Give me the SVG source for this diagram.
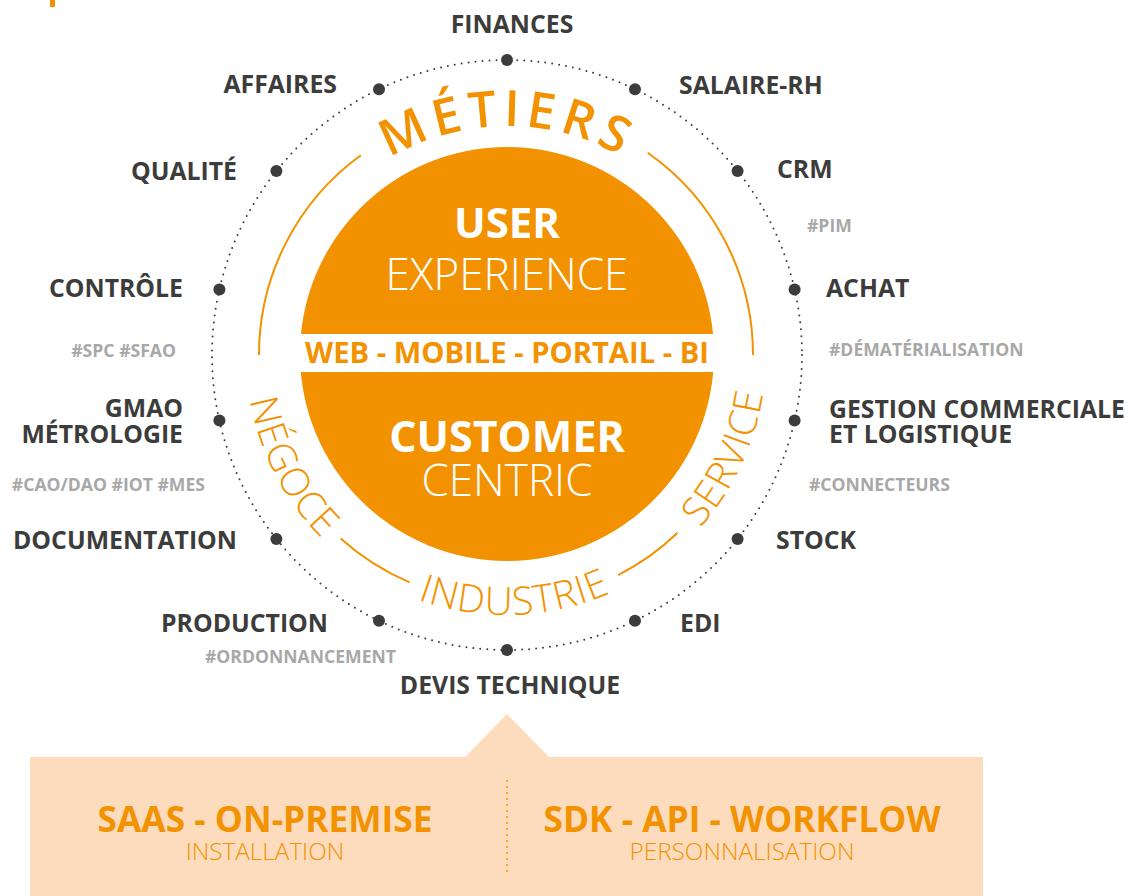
<svg xmlns="http://www.w3.org/2000/svg" width="1134" height="896" viewBox="0 0 1134 896">
<style>
.lbl{font-family:"Open Sans","Liberation Sans",sans-serif;font-weight:700;font-size:24.8px;fill:#3c3c3b}
.tag{font-family:"Open Sans","Liberation Sans",sans-serif;font-weight:700;font-size:17.6px;fill:#a8a8a8}
.dot{fill:#3c3c3b}
.arc{fill:none;stroke:#f39200;stroke-width:2}
.ring{font-family:"Open Sans","Liberation Sans",sans-serif;font-weight:300;font-size:39px;fill:#f39200;letter-spacing:1px}
.wb{font-family:"Open Sans","Liberation Sans",sans-serif;font-weight:700;fill:#fff}
.wl{font-family:"Open Sans","Liberation Sans",sans-serif;font-weight:300;fill:#fff}
.ob{font-family:"Open Sans","Liberation Sans",sans-serif;font-weight:700;fill:#f39200}
.ol{font-family:"Open Sans","Liberation Sans",sans-serif;font-weight:300;fill:#f39200}
</style>
<defs>
<path id="topPath" d="M 278 355 A 229 229 0 0 1 736 355"/>
<path id="botPath" d="M 246 355 A 260 260 0 0 0 766 355"/>
</defs>
<rect width="1134" height="896" fill="#fff"/>
<rect x="50" y="0" width="5" height="7" fill="#f39200"/>

<g id="connectors">
<circle cx="507" cy="355" r="295" fill="none" stroke="#3c3c3b" stroke-width="2" stroke-linecap="round" stroke-dasharray="0 7"/>
</g>

<g id="core">
<circle cx="507" cy="354" r="207" fill="#f39200"/>
<rect x="290" y="334" width="434" height="38" fill="#fff"/>
<text class="wb" x="507" y="238" font-size="42" text-anchor="middle">USER</text>
<text class="wl" x="507" y="290" font-size="44" text-anchor="middle">EXPERIENCE</text>
<text class="ob" x="507" y="363" font-size="29.2" text-anchor="middle">WEB - MOBILE - PORTAIL - BI</text>
<text class="wb" x="507" y="452" font-size="43" text-anchor="middle">CUSTOMER</text>
<text class="wl" x="507" y="496" font-size="44" text-anchor="middle">CENTRIC</text>
</g>

<g id="ring">
<path class="arc" d="M 259 355 A 247 247 0 0 1 360.8 155.2"/>
<path class="arc" d="M 647.7 152.7 A 247 247 0 0 1 753 355"/>
<path class="arc" d="M 340.7 538.6 A 247 247 0 0 0 409.5 582.4"/>
<path class="arc" d="M 618.1 575.1 A 247 247 0 0 0 677.6 532.7"/>
<text font-family="'Open Sans','Liberation Sans',sans-serif" font-weight="600" font-size="50" fill="#f39200" letter-spacing="6"><textPath href="#topPath" startOffset="50%" text-anchor="middle">MÉTIERS</textPath></text>
<text class="ring"><textPath href="#botPath" startOffset="15.3%" text-anchor="middle">NÉGOCE</textPath></text>
<text class="ring"><textPath href="#botPath" startOffset="51.1%" text-anchor="middle">INDUSTRIE</textPath></text>
<text class="ring"><textPath href="#botPath" startOffset="86.1%" text-anchor="middle">SERVICE</textPath></text>
</g>

<g id="n-finances"><circle class="dot" cx="507" cy="60" r="6"/><text class="lbl" x="512" y="33" text-anchor="middle">FINANCES</text></g>
<g id="n-salaire"><circle class="dot" cx="635" cy="89.2" r="6"/><text class="lbl" x="679" y="94">SALAIRE-RH</text></g>
<g id="n-crm"><circle class="dot" cx="737.6" cy="171.1" r="6"/><text class="lbl" x="777" y="178">CRM</text><text class="tag" x="807" y="232">#PIM</text></g>
<g id="n-achat"><circle class="dot" cx="794.6" cy="289.4" r="6"/><text class="lbl" x="826" y="297">ACHAT</text><text class="tag" x="829" y="356">#DÉMATÉRIALISATION</text></g>
<g id="n-gestion"><circle class="dot" cx="794.6" cy="420.6" r="6"/><text class="lbl" x="829" y="418">GESTION COMMERCIALE</text><text class="lbl" x="829" y="443">ET LOGISTIQUE</text><text class="tag" x="809" y="491">#CONNECTEURS</text></g>
<g id="n-stock"><circle class="dot" cx="737.6" cy="538.9" r="6"/><text class="lbl" x="776" y="549">STOCK</text></g>
<g id="n-edi"><circle class="dot" cx="635" cy="620.8" r="6"/><text class="lbl" x="680" y="632">EDI</text></g>
<g id="n-devis"><circle class="dot" cx="507" cy="650" r="6"/><text class="lbl" x="510" y="694" text-anchor="middle">DEVIS TECHNIQUE</text></g>
<g id="n-production"><circle class="dot" cx="379" cy="620.8" r="6"/><text class="lbl" x="328" y="632" text-anchor="end">PRODUCTION</text><text class="tag" x="396" y="663" text-anchor="end">#ORDONNANCEMENT</text></g>
<g id="n-documentation"><circle class="dot" cx="276.4" cy="538.9" r="6"/><text class="lbl" x="237" y="549" text-anchor="end">DOCUMENTATION</text></g>
<g id="n-gmao"><circle class="dot" cx="219.4" cy="420.6" r="6"/><text class="lbl" x="183" y="417" text-anchor="end">GMAO</text><text class="lbl" x="183" y="443" text-anchor="end">MÉTROLOGIE</text><text class="tag" x="205" y="491" text-anchor="end">#CAO/DAO #IOT #MES</text></g>
<g id="n-controle"><circle class="dot" cx="219.4" cy="289.4" r="6"/><text class="lbl" x="183" y="297" text-anchor="end">CONTRÔLE</text><text class="tag" x="176" y="357" text-anchor="end">#SPC #SFAO</text></g>
<g id="n-qualite"><circle class="dot" cx="276.4" cy="171.1" r="6"/><text class="lbl" x="237" y="180" text-anchor="end">QUALITÉ</text></g>
<g id="n-affaires"><circle class="dot" cx="379" cy="89.2" r="6"/><text class="lbl" x="337" y="93" text-anchor="end">AFFAIRES</text></g>

<g id="bottom-box">
<path d="M 30 757 L 465 757 L 507 714 L 549 757 L 983 757 L 983 896 L 30 896 Z" fill="#fcdcbd"/>
<line x1="507" y1="781" x2="507" y2="876" stroke="#f39200" stroke-width="2" stroke-linecap="round" stroke-dasharray="0 6"/>
<text class="ob" x="265" y="832" font-size="35.3" text-anchor="middle">SAAS - ON-PREMISE</text>
<text class="ol" x="265" y="860" font-size="24.3" text-anchor="middle">INSTALLATION</text>
<text class="ob" x="742" y="832" font-size="35.3" text-anchor="middle">SDK - API - WORKFLOW</text>
<text class="ol" x="742" y="860" font-size="24.3" text-anchor="middle">PERSONNALISATION</text>
</g>
</svg>
